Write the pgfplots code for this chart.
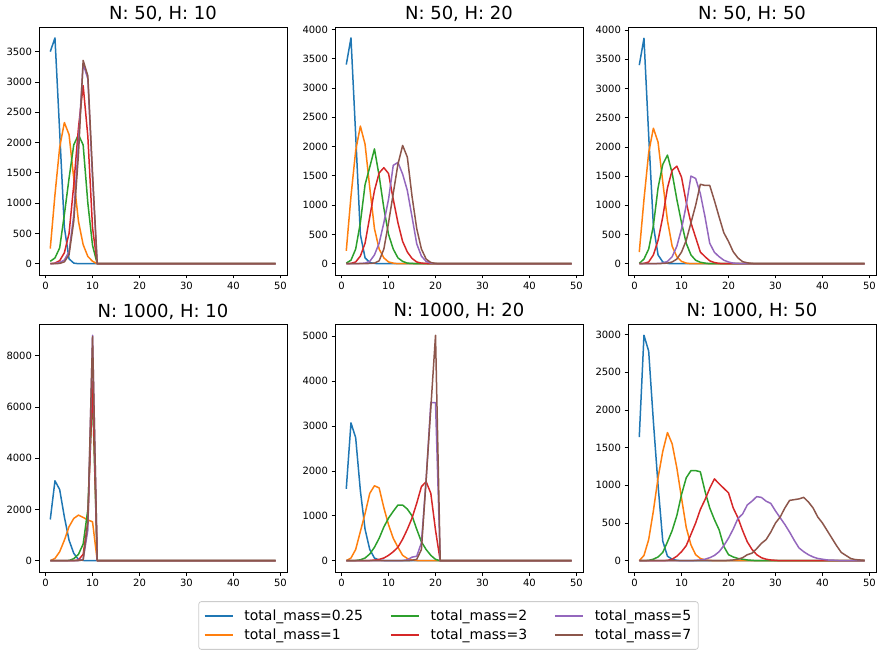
\documentclass[border=0pt]{standalone}
\usepackage{fontspec}
\setmainfont{DejaVu Sans}
\usepackage{pgfplots}
\usepackage{pgfplotstable}
\pgfplotsset{compat=1.18}
\definecolor{c0}{HTML}{1F77B4}
\definecolor{c1}{HTML}{FF7F0E}
\definecolor{c2}{HTML}{2CA02C}
\definecolor{c3}{HTML}{D62728}
\definecolor{c4}{HTML}{9467BD}
\definecolor{c5}{HTML}{8C564B}

\pgfplotstableread{
x a b c d e f
1 3500 250 40 0 0 0
2 3725 1140 95 10 5 0
3 2180 1920 260 50 20 5
4 600 2330 810 180 60 30
5 80 2130 1410 500 200 150
6 10 1410 1960 1300 800 700
7 0 700 2130 2240 2000 1800
8 0 315 1960 2940 3300 3355
9 0 120 1000 2100 3050 3100
10 0 40 300 590 1400 1500
11 0 0 0 0 0 0
49 0 0 0 0 0 0
}\tA

\pgfplotstableread{
x a b c d e f
1 3400 220 10 0 0 0
2 3855 1150 60 5 0 0
3 2200 1930 250 30 0 0
4 500 2350 700 130 5 0
5 100 2040 1350 350 10 0
6 20 1300 1650 800 40 5
7 5 600 1960 1250 150 10
8 0 250 1500 1550 350 50
9 0 100 950 1640 700 250
10 0 30 500 1540 1100 700
11 0 10 250 1100 1680 1200
12 0 0 100 700 1730 1700
13 0 0 40 380 1530 2020
14 0 0 10 200 1250 1820
15 0 0 5 90 800 1150
16 0 0 0 30 340 600
17 0 0 0 10 130 250
18 0 0 0 5 40 80
19 0 0 0 0 10 20
20 0 0 0 0 0 5
21 0 0 0 0 0 0
49 0 0 0 0 0 0
}\tB

\pgfplotstableread{
x a b c d e f
1 3400 200 5 0 0 0
2 3860 1100 80 5 0 0
3 2200 1900 250 30 0 0
4 650 2320 650 150 0 0
5 150 2080 1300 400 5 0
6 30 1400 1700 800 10 5
7 5 740 1860 1300 40 10
8 0 300 1550 1600 120 30
9 0 120 1100 1670 300 80
10 0 40 700 1480 600 200
11 0 10 350 1050 1000 400
12 0 0 150 700 1500 700
13 0 0 60 450 1460 1000
14 0 0 25 200 1200 1360
15 0 0 10 120 800 1340
16 0 0 0 50 350 1340
17 0 0 0 20 195 1080
18 0 0 0 5 120 800
19 0 0 0 0 60 530
20 0 0 0 0 30 380
21 0 0 0 0 10 205
22 0 0 0 0 5 100
23 0 0 0 0 0 35
24 0 0 0 0 0 15
25 0 0 0 0 0 5
26 0 0 0 0 0 0
49 0 0 0 0 0 0
}\tC

\pgfplotstableread{
x a b c d e f
1 1610 0 0 0 0 0
2 3120 90 0 0 0 0
3 2780 350 0 0 0 0
4 1710 800 5 0 0 0
5 800 1330 10 0 0 0
6 290 1650 80 5 0 0
7 50 1780 250 30 10 5
8 10 1690 650 250 50 30
9 0 1590 2000 1500 1200 1500
10 0 1520 6530 7000 8800 8750
11 0 0 0 0 0 0
49 0 0 0 0 0 0
}\tD

\pgfplotstableread{
x a b c d e f
1 1600 0 0 0 0 0
2 3070 60 0 0 0 0
3 2740 250 5 0 0 0
4 1560 650 20 0 0 0
5 700 1050 60 0 0 0
6 250 1500 150 5 0 0
7 60 1670 300 15 0 0
8 15 1620 500 30 0 0
9 5 1180 750 60 0 0
10 0 800 950 120 0 0
11 0 500 1100 200 0 0
12 0 300 1240 300 0 0
13 0 120 1240 480 5 0
14 0 50 1150 700 20 0
15 0 15 1000 950 80 10
16 0 5 700 1280 100 30
17 0 0 420 1650 400 250
18 0 0 250 1760 1800 1800
19 0 0 120 1500 3520 3400
20 0 0 30 680 3520 5020
21 0 0 0 0 0 0
49 0 0 0 0 0 0
}\tE

\pgfplotstableread{
x a b c d e f
1 1640 0 0 0 0 0
2 2990 70 0 0 0 0
3 2780 280 5 0 0 0
4 1850 660 20 0 0 0
5 1000 1100 50 0 0 0
6 260 1450 110 0 0 0
7 60 1700 250 5 0 0
8 20 1550 400 20 0 0
9 5 1230 600 60 0 0
10 0 830 880 120 0 0
11 0 440 1100 200 0 0
12 0 210 1195 350 0 0
13 0 80 1195 500 5 0
14 0 30 1180 680 10 0
15 0 10 920 810 20 0
16 0 5 700 960 40 0
17 0 0 545 1085 70 0
18 0 0 410 1020 120 0
19 0 0 190 960 200 0
20 0 0 80 900 300 5
21 0 0 50 700 420 10
22 0 0 30 570 560 20
23 0 0 20 400 620 40
24 0 0 10 250 740 80
25 0 0 5 150 790 100
26 0 0 0 80 850 160
27 0 0 0 40 840 230
28 0 0 0 20 790 280
29 0 0 0 10 760 380
30 0 0 0 5 660 500
31 0 0 0 0 570 580
32 0 0 0 0 480 700
33 0 0 0 0 380 800
34 0 0 0 0 270 810
35 0 0 0 0 170 820
36 0 0 0 0 120 840
37 0 0 0 0 80 780
38 0 0 0 0 50 700
39 0 0 0 0 30 580
40 0 0 0 0 20 500
41 0 0 0 0 10 400
42 0 0 0 0 8 300
43 0 0 0 0 5 200
44 0 0 0 0 0 110
45 0 0 0 0 0 70
46 0 0 0 0 0 30
47 0 0 0 0 0 15
48 0 0 0 0 0 10
49 0 0 0 0 0 5
}\tF

\pgfplotsset{
  panel/.style={
    scale only axis, width=248pt, height=248pt, anchor=south west,
    xmin=-1.4, xmax=51.4, xtick={0,10,...,50},
    axis line style={line width=0.8pt},
    tick align=outside, xtick pos=bottom, ytick pos=left,
    major tick length=3.5pt,
    every tick/.style={black, line width=0.8pt},
    tick label style={font=\fontsize{10}{12}\selectfont},
    /pgf/number format/assume math mode=true,
    /pgf/number format/1000 sep={},
    scaled ticks=false,
    every axis title/.style={at={(0.5,1)}, anchor=base, yshift=7pt, inner sep=0pt, font=\fontsize{18}{21}\selectfont},
  },
  ln/.style={line width=1.5pt, line join=round},
}
\newcommand{\six}[1]{%
  \addplot[ln,c0] table[x=x,y=a]{#1};
  \addplot[ln,c1] table[x=x,y=b]{#1};
  \addplot[ln,c2] table[x=x,y=c]{#1};
  \addplot[ln,c3] table[x=x,y=d]{#1};
  \addplot[ln,c4] table[x=x,y=e]{#1};
  \addplot[ln,c5] table[x=x,y=f]{#1};
}

\begin{document}
\begin{tikzpicture}
\useasboundingbox (0,0) rectangle (883pt,656pt);

\begin{axis}[panel, at={(39pt,381pt)}, ymin=-186, ymax=3906, ytick={0,500,...,3500}, title={N: 50, H: 10}]
\six{\tA}
\end{axis}
\begin{axis}[panel, at={(335pt,381pt)}, ymin=-192.5, ymax=4042.5, ytick={0,500,...,4000}, title={N: 50, H: 20}]
\six{\tB}
\end{axis}
\begin{axis}[panel, at={(628pt,381pt)}, ymin=-193, ymax=4053, ytick={0,500,...,4000}, title={N: 50, H: 50}]
\six{\tC}
\end{axis}
\begin{axis}[panel, at={(39pt,84pt)}, ymin=-440, ymax=9240, ytick={0,2000,...,8000}, title={N: 1000, H: 10}]
\six{\tD}
\end{axis}
\begin{axis}[panel, at={(335pt,84pt)}, ymin=-251, ymax=5271, ytick={0,1000,...,5000}, title={N: 1000, H: 20}]
\six{\tE}
\end{axis}
\begin{axis}[panel, at={(628pt,84pt)}, ymin=-149.5, ymax=3139.5, ytick={0,500,...,3000}, title={N: 1000, H: 50}]
\six{\tF}
\end{axis}

\begin{axis}[at={(448.5pt,30.5pt)}, anchor=center, hide axis, scale only axis, width=10pt, height=10pt,
  xmin=0, xmax=1, ymin=0, ymax=1,
  legend columns=3,
  legend cell align=left,
  legend image code/.code={\draw[#1, line width=1.6pt] (0pt,0pt) -- (28pt,0pt);},
  legend style={at={(0.5,0.5)}, anchor=center, draw=black!20, line width=0.8pt, rounded corners=2.5pt,
    font=\fontsize{14}{16}\selectfont, inner xsep=5pt, inner ysep=6.5pt,
    row sep=2.5pt,
    /tikz/every odd column/.append style={column sep=9pt},
    /tikz/every even column/.append style={column sep=25pt}},
]
\addlegendimage{c0}\addlegendentry{total\_mass=0.25}
\addlegendimage{c2}\addlegendentry{total\_mass=2}
\addlegendimage{c4}\addlegendentry{total\_mass=5}
\addlegendimage{c1}\addlegendentry{total\_mass=1}
\addlegendimage{c3}\addlegendentry{total\_mass=3}
\addlegendimage{c5}\addlegendentry{total\_mass=7}
\end{axis}
\end{tikzpicture}
\end{document}
